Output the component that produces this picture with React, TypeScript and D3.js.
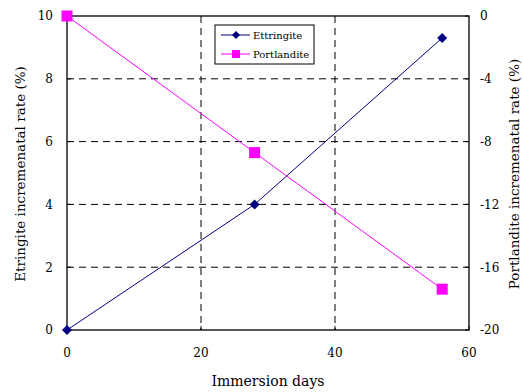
import React from "react";
import * as d3 from "d3";

const days = [0, 28, 56];
const ettringite = [0, 4, 9.3];
const portlandite = [0, -8.7, -17.4];
const xTicks = [0, 20, 40, 60];
const leftTicks = [0, 2, 4, 6, 8, 10];
const rightTicks = [0, -4, -8, -12, -16, -20];

const W = 523, H = 392;
const M = { left: 67, right: 469, top: 16, bottom: 330 };
const FONT = "'DejaVu Serif', serif";

export default function App() {
  const x = d3.scaleLinear().domain([0, 60]).range([M.left, M.right]);
  const yL = d3.scaleLinear().domain([0, 10]).range([M.bottom, M.top]);
  const yR = d3.scaleLinear().domain([-20, 0]).range([M.bottom, M.top]);
  const lineE = d3.line<number>().x((_, i) => x(days[i])).y((d) => yL(d));
  const lineP = d3.line<number>().x((_, i) => x(days[i])).y((d) => yR(d));
  const dm = "M0,-5L5,0L0,5L-5,0Z";
  const dmS = "M0,-4L4,0L0,4L-4,0Z";

  return (
    <svg width={W} height={H} style={{ position: "absolute", left: 0, top: 0, fontFamily: FONT }}>
      <rect x={0} y={0} width={W} height={H} fill="white" />
      {leftTicks.filter((t) => t > 0 && t < 10).map((t) => (
        <line key={"h" + t} x1={M.left} x2={M.right} y1={yL(t)} y2={yL(t)} stroke="#000" strokeWidth={1} strokeDasharray="7,5" />
      ))}
      {xTicks.filter((t) => t > 0 && t < 60).map((t) => (
        <line key={"v" + t} x1={x(t)} x2={x(t)} y1={M.top} y2={M.bottom} stroke="#000" strokeWidth={1} strokeDasharray="7,5" />
      ))}
      <rect x={M.left} y={M.top} width={M.right - M.left} height={M.bottom - M.top} fill="none" stroke="#000" strokeWidth={1.3} />
      {leftTicks.map((t) => (
        <g key={"l" + t}>
          <line x1={M.left} x2={M.left + 4} y1={yL(t)} y2={yL(t)} stroke="#000" />
          <text x={M.left - 14} y={yL(t)} dy="0.36em" textAnchor="end" fontSize={12}>{t}</text>
        </g>
      ))}
      {rightTicks.map((t) => (
        <g key={"r" + t}>
          <line x1={M.right - 4} x2={M.right} y1={yR(t)} y2={yR(t)} stroke="#000" />
          <text x={M.right + 11} y={yR(t)} dy="0.36em" textAnchor="start" fontSize={12}>{t}</text>
        </g>
      ))}
      {xTicks.map((t) => (
        <g key={"x" + t}>
          <line x1={x(t)} x2={x(t)} y1={M.bottom - 4} y2={M.bottom} stroke="#000" />
          <text x={x(t)} y={M.bottom + 27} textAnchor="middle" fontSize={12}>{t}</text>
        </g>
      ))}
      <path d={lineE(ettringite) || ""} fill="none" stroke="#000080" strokeWidth={1} />
      <path d={lineP(portlandite) || ""} fill="none" stroke="#ff00ff" strokeWidth={1} />
      {ettringite.map((v, i) => (
        <path key={"e" + i} d={dm} transform={`translate(${x(days[i])},${yL(v)})`} fill="#000080" />
      ))}
      {portlandite.map((v, i) => (
        <rect key={"p" + i} x={x(days[i]) - 5.5} y={yR(v) - 5.5} width={11} height={11} fill="#ff00ff" />
      ))}
      <rect x={215} y={25} width={99} height={39} fill="white" stroke="#000" strokeWidth={1} />
      <line x1={221} x2={250} y1={35} y2={35} stroke="#000080" />
      <path d={dmS} transform="translate(236,35)" fill="#000080" />
      <text x={253} y={35} dy="0.36em" fontSize={10}>Ettringite</text>
      <line x1={221} x2={250} y1={54} y2={54} stroke="#ff00ff" />
      <rect x={232} y={50} width={8} height={8} fill="#ff00ff" />
      <text x={253} y={54} dy="0.36em" fontSize={10}>Portlandite</text>
      <text x={(M.left + M.right) / 2} y={386} textAnchor="middle" fontSize={14}>Immersion days</text>
      <text transform={`translate(25,174) rotate(-90)`} textAnchor="middle" fontSize={13.5}>Etringite incremenatal rate (%)</text>
      <text transform={`translate(519,174) rotate(-90)`} textAnchor="middle" fontSize={13.5}>Portlandite incremenatal rate (%)</text>
    </svg>
  );
}
